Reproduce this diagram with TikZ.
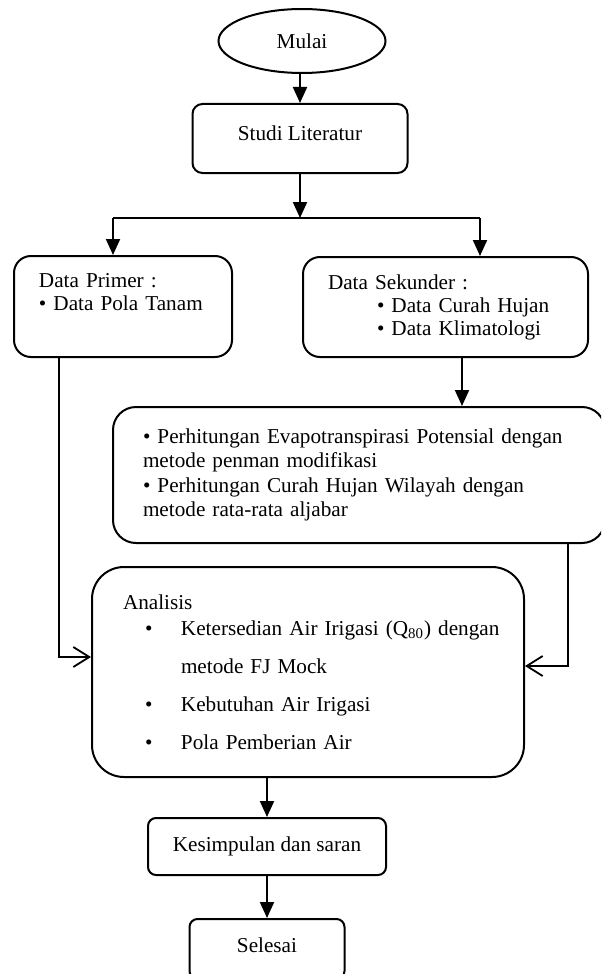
\documentclass[tikz,border=0pt]{standalone}
\usepackage{fontspec}
\setmainfont{Liberation Serif}
\usetikzlibrary{arrows.meta,positioning,shapes.geometric}
\tikzset{
  box/.style    ={draw,line width=1pt,rounded corners=#1,inner sep=2pt},
  box/.default  =5pt,
  term/.style   ={ellipse,draw,line width=1pt,minimum width=83.5pt,minimum height=32pt,inner sep=0pt},
  list/.style   ={align=left,text width=#1},
  arr/.style    ={-{Triangle[length=8pt,width=7pt]},line width=1pt},
  oarr/.style   ={-{Straight Barb[length=8pt,width=10pt]},line width=0.9pt},
  link/.style   ={line width=1pt},
}
\newcommand{\anitem}[1]{\hspace*{11pt}\makebox[18pt][l]{\textbullet}\mbox{#1}}
\newcommand{\anmore}[1]{\hspace*{29pt}\mbox{#1}}

\begin{document}
\begin{tikzpicture}[x=0.5pt,y=-0.5pt,font=\fontsize{10.6}{11.5}\selectfont]
  \useasboundingbox (0,0) rectangle (601,974);
  \clip (0,0) rectangle (601,974);
  % start, literature
  \node[term] (mulai) at (302,41) {Mulai};
  \node[box,minimum width=107.5pt,minimum height=34.5pt,text depth=5.2pt] (studi) at (300,138.5) {Studi Literatur};
  % data boxes
  \node[box=8.5pt,list=84pt,inner xsep=12.5pt,minimum height=50.5pt] (primer) at (123,306.5)
    {Data Primer :\\ \textbullet{} Data Pola Tanam\\ \strut};
  \node[box=8.5pt,list=117.5pt,inner xsep=12.5pt,minimum height=50pt] (sekunder) at (445.5,307)
    {Data Sekunder :\\
     \hspace*{24.5pt}\textbullet{} Data Curah Hujan\\
     \hspace*{24.5pt}\textbullet{} Data Klimatologi};
  % calculations
  \node[box=11.5pt,list=216pt,inner xsep=15pt,minimum height=68pt,
        font=\fontsize{10.6}{12.25}\selectfont] (hitung) at (359,475)
    {\textbullet{} Perhitungan Evapotranspirasi Potensial dengan\\
     metode penman modifikasi\\
     \textbullet{} Perhitungan Curah Hujan Wilayah dengan\\
     metode rata-rata aljabar};
  % analysis
  \node[box=16pt,list=185pt,inner xsep=15.5pt,minimum height=105pt] (analisis) at (308,672)
    {Analisis\\[1.5pt]
     \anitem{Ketersedian Air Irigasi (Q\textsubscript{80}) dengan}\\[7.5pt]
     \anmore{metode FJ Mock}\\[7.5pt]
     \anitem{Kebutuhan Air Irigasi}\\[7.5pt]
     \anitem{Pola Pemberian Air}};
  % end
  \node[box=4pt,minimum width=119pt,minimum height=28.5pt] (kesimpulan) at (267,846.5) {Kesimpulan dan saran};
  \node[box=4pt,minimum width=77.5pt,minimum height=30pt,text depth=4.2pt,below=21pt of kesimpulan] (selesai) {Selesai};

  % connectors
  \coordinate (split) at (300,218);
  \coordinate (sL) at (113,218);
  \coordinate (sR) at (480,218);
  \coordinate (sk) at ([xshift=8.25pt]sekunder.south);
  \draw[arr] (mulai.south -| studi.north) -- (studi.north);
  \draw[arr] (studi) -- (split);
  \draw[link] (sL) -- (sR);
  \draw[arr] (sL) -- (sL |- primer.north);
  \draw[arr] (sR) -- (sR |- sekunder.north);
  \draw[arr] (sk) -- (sk |- hitung.north);
  \draw[oarr] ([xshift=-32pt]primer.south) |- ([yshift=7.5pt]analisis.west);
  \draw[oarr] ([xshift=104.5pt]hitung.south) |- ([yshift=3pt]analisis.east);
  \draw[arr] (kesimpulan.north |- analisis.south) -- (kesimpulan);
  \draw[arr] (kesimpulan) -- (selesai);
\end{tikzpicture}
\end{document}
